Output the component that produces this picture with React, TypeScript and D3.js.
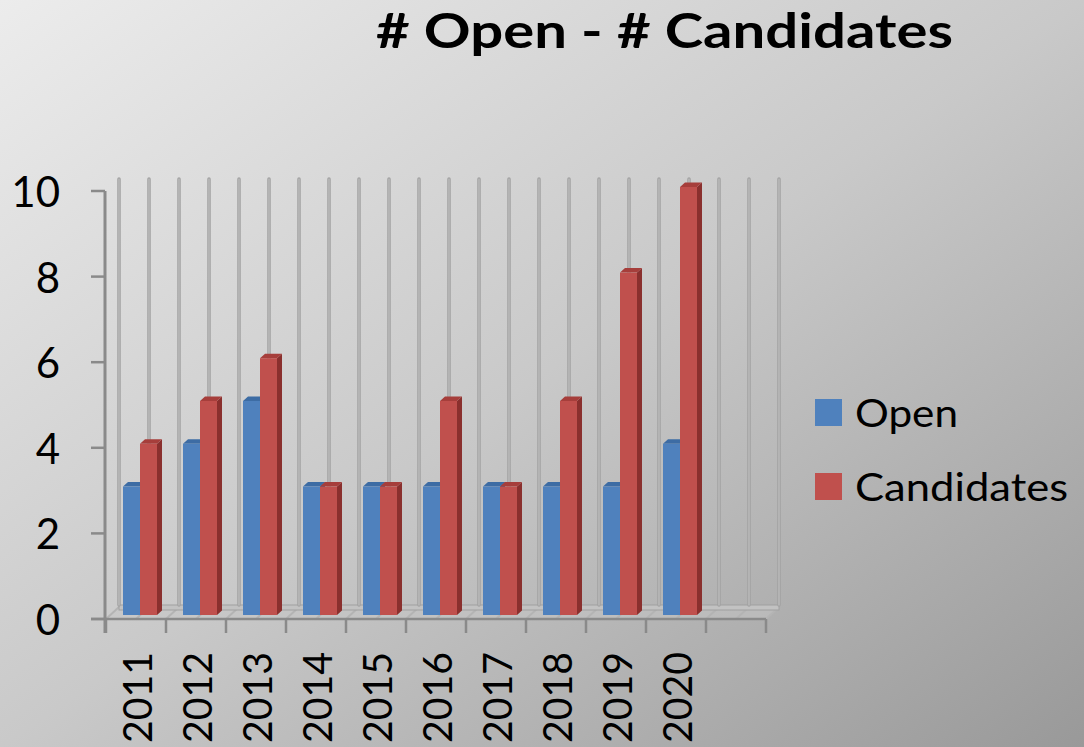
import React from "react";
import * as d3 from "d3";

const years = ["2011", "2012", "2013", "2014", "2015", "2016", "2017", "2018", "2019", "2020"];
const openValues = [3, 4, 5, 3, 3, 3, 3, 3, 3, 4];
const candidateValues = [4, 5, 6, 3, 3, 5, 3, 5, 8, 10];
const seriesNames = ["Open", "Candidates"];
const yTicks = [0, 2, 4, 6, 8, 10];
const title = "# Open - # Candidates";

const W = 1084;
const H = 747;
const FONT = "Lato, 'Open Sans', 'DejaVu Sans', sans-serif";

const colors = {
  Open: { front: "#4f81bd", top: "#3d6ca4", side: "#2e5484" },
  Candidates: { front: "#c0504d", top: "#a63e3b", side: "#8a302e" },
};

export default function App() {
  // 11 category slots: 10 years + one empty slot as in the original
  const domain = [...years, "__empty__"];
  const x = d3.scaleBand<string>().domain(domain).range([106, 766]).padding(0);
  const y = d3.scaleLinear().domain([0, 10]).range([619, 191]);
  const inner = d3.scaleBand<string>().domain(seriesNames).range([13, 47]).padding(0);

  const depthX = 13; // back wall offset
  const depthY = -12;
  const barFrontDx = 4;
  const barFrontDy = -4;
  const barDepthDx = 5;
  const barDepthDy = -4.5;

  const bw = x.bandwidth();
  const half = bw / 2;
  const xStart = x.range()[0];
  const xEnd = x.range()[1];
  const gridCount = Math.round((xEnd - xStart) / half) + 1;
  const gridXs = d3.range(gridCount).map((k) => xStart + k * half + depthX);
  const wallTop = y(10) + depthY;
  const floorBack = y(0) + depthY;

  const bars: JSX.Element[] = [];
  years.forEach((yr, i) => {
    const vals = [openValues[i], candidateValues[i]];
    seriesNames.forEach((s, j) => {
      const v = vals[j];
      const c = (colors as any)[s];
      const x0 = (x(yr) as number) + (inner(s) as number) + barFrontDx;
      const x1 = x0 + inner.bandwidth();
      const yb = y(0) + barFrontDy;
      const yt = y(v) + barFrontDy;
      const dx = barDepthDx;
      const dy = barDepthDy;
      bars.push(
        <g key={`${yr}-${s}`}>
          <polygon
            points={`${x1},${yt} ${x1 + dx},${yt + dy} ${x1 + dx},${yb + dy} ${x1},${yb}`}
            fill={c.side}
          />
          <polygon
            points={`${x0},${yt} ${x0 + dx},${yt + dy} ${x1 + dx},${yt + dy} ${x1},${yt}`}
            fill={c.top}
          />
          <rect x={x0} y={yt} width={x1 - x0} height={yb - yt} fill={c.front} />
        </g>
      );
    });
  });

  const xTickXs = d3.range(domain.length + 1).map((k) => xStart + k * bw);

  return (
    <svg
      width={W}
      height={H}
      style={{ position: "absolute", left: 0, top: 0, display: "block" }}
    >
      <defs>
        <linearGradient id="bg" x1="0" y1="0" x2="1" y2="1">
          <stop offset="0" stopColor="#ececec" />
          <stop offset="0.5" stopColor="#c9c9c9" />
          <stop offset="1" stopColor="#999999" />
        </linearGradient>
      </defs>
      <rect x={0} y={0} width={W} height={H} fill="url(#bg)" />

      {/* floor */}
      <polygon
        points={`${xStart},${y(0)} ${xStart + depthX},${floorBack} ${xEnd + depthX},${floorBack} ${xEnd},${y(0)}`}
        fill="#c6c6c6"
        opacity={0.5}
      />
      {gridXs.map((gx, k) => (
        <line
          key={`fd${k}`}
          x1={gx - depthX}
          y1={y(0)}
          x2={gx}
          y2={floorBack}
          stroke="#b4b4b4"
          strokeWidth={2}
        />
      ))}
      <rect
        x={xStart + depthX}
        y={floorBack - 2}
        width={xEnd - xStart}
        height={5}
        fill="#c2c2c2"
        stroke="#a0a0a0"
        strokeWidth={1}
      />

      {/* back wall grid lines */}
      {gridXs.map((gx, k) => (
        <g key={`g${k}`}>
          <line x1={gx} y1={wallTop} x2={gx} y2={floorBack - 2} stroke="#a2a2a2" strokeWidth={3.5} strokeLinecap="round" />
          <line x1={gx} y1={wallTop} x2={gx} y2={floorBack - 2} stroke="#c0c0c0" strokeWidth={1.2} strokeLinecap="round" />
        </g>
      ))}

      {/* bars */}
      {bars}

      {/* y axis */}
      <line x1={xStart - 1} y1={y(10)} x2={xStart - 1} y2={y(0) + 14} stroke="#8a8a8a" strokeWidth={3} />
      {yTicks.map((t) => (
        <g key={`yt${t}`}>
          <line x1={91} y1={y(t)} x2={xStart - 1} y2={y(t)} stroke="#8a8a8a" strokeWidth={2.5} />
          <text
            x={60}
            y={y(t)}
            textAnchor="end"
            dominantBaseline="central"
            fontFamily={FONT}
            fontSize={42}
            fill="#000"
          >
            {t}
          </text>
        </g>
      ))}

      {/* x axis */}
      <line x1={91} y1={y(0)} x2={xEnd} y2={y(0)} stroke="#8a8a8a" strokeWidth={2.5} />
      {xTickXs.map((tx, k) => (
        <line key={`xt${k}`} x1={tx} y1={y(0)} x2={tx} y2={y(0) + 14} stroke="#8a8a8a" strokeWidth={2.5} />
      ))}
      {years.map((yr) => {
        const cx = (x(yr) as number) + half;
        return (
          <text
            key={`xl${yr}`}
            transform={`translate(${cx},652) rotate(-90)`}
            textAnchor="end"
            dominantBaseline="central"
            fontFamily={FONT}
            fontSize={41}
            textLength={91}
            lengthAdjust="spacingAndGlyphs"
            fill="#000"
          >
            {yr}
          </text>
        );
      })}

      {/* title */}
      <text
        x={376}
        y={48}
        fontFamily={FONT}
        fontWeight="bold"
        fontSize={47}
        textLength={577}
        lengthAdjust="spacingAndGlyphs"
        fill="#000"
      >
        {title}
      </text>

      {/* legend */}
      {seriesNames.map((s, j) => {
        const ly = 399 + j * 74;
        return (
          <g key={`lg${s}`}>
            <rect x={815} y={ly} width={27} height={27} fill={(colors as any)[s].front} />
            <text
              x={855}
              y={ly + 28}
              fontFamily={FONT}
              fontSize={38}
              textLength={s === "Open" ? 103 : 213}
              lengthAdjust="spacingAndGlyphs"
              fill="#000"
            >
              {s}
            </text>
          </g>
        );
      })}
    </svg>
  );
}
